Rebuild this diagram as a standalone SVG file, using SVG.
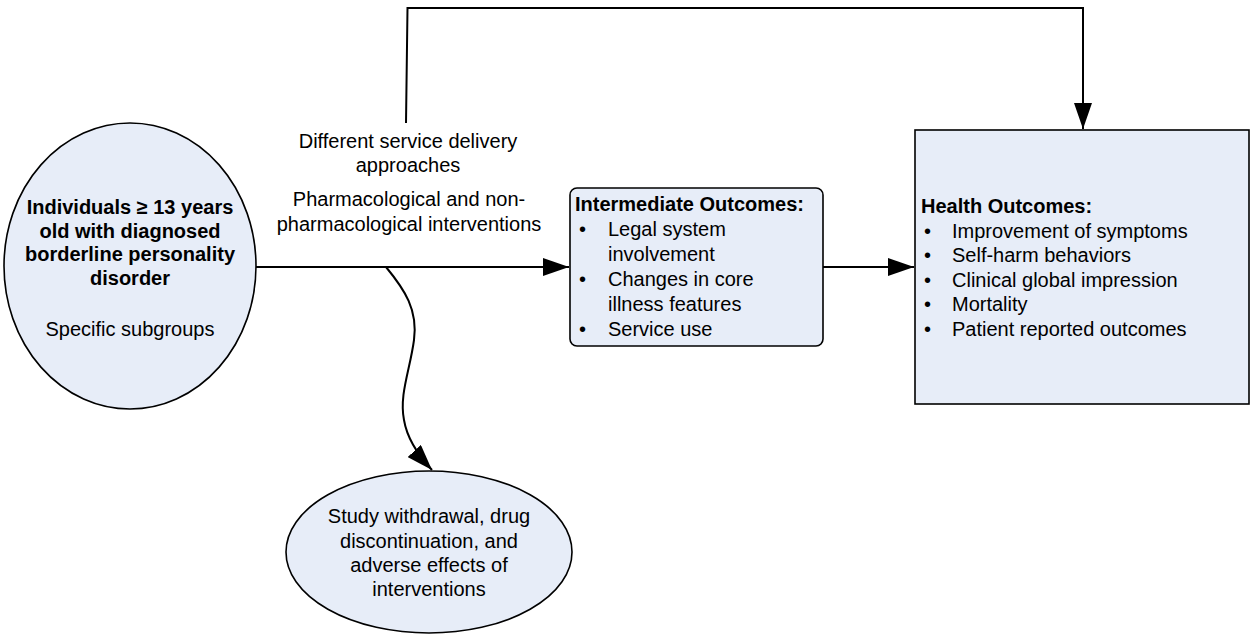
<svg xmlns="http://www.w3.org/2000/svg" width="1252" height="634" viewBox="0 0 1252 634">
<style>
.shape{fill:#E7EDF8;stroke:#000;stroke-width:1.6}
.t{font-family:"Liberation Sans",Arial,sans-serif;font-size:20px;fill:#000}
.b{font-weight:bold}
.c{text-anchor:middle}
.conn{fill:none;stroke:#000;stroke-width:2}
</style>
<defs>
<marker id="ah" markerWidth="26" markerHeight="18" refX="26" refY="9" orient="auto" markerUnits="userSpaceOnUse">
<path d="M0,0 L26,9 L0,18 Z" fill="#000"/>
</marker>
</defs>
<rect width="1252" height="634" fill="#fff"/>
<g id="connectors">
<path class="conn" d="M406,123 L407.5,8 L1083,8 L1083,129" marker-end="url(#ah)"/>
<path class="conn" d="M256,267 L569,267" marker-end="url(#ah)"/>
<path class="conn" d="M823,267 L914,267" marker-end="url(#ah)"/>
<path class="conn" d="M386,267 C405,290 418,310 414,340 C410,370 399,395 404,420 C407,438 418,455 432,470" marker-end="url(#ah)"/>
</g>
<g id="population">
<ellipse class="shape" cx="130" cy="266" rx="126" ry="143"/>
<text class="t b c" x="130" y="214">Individuals ≥ 13 years</text>
<text class="t b c" x="130" y="237.5">old with diagnosed</text>
<text class="t b c" x="130" y="261">borderline personality</text>
<text class="t b c" x="130" y="284.5">disorder</text>
<text class="t c" x="130" y="336">Specific subgroups</text>
</g>
<g id="interventions">
<text class="t c" x="408" y="148">Different service delivery</text>
<text class="t c" x="408" y="172">approaches</text>
<text class="t c" x="409" y="206">Pharmacological and non-</text>
<text class="t c" x="409" y="231">pharmacological interventions</text>
</g>
<g id="intermediate">
<rect class="shape" x="570" y="188" width="253" height="158" rx="7" ry="7"/>
<text class="t b" x="575" y="211">Intermediate Outcomes:</text>
<text class="t" x="579" y="236">•</text><text class="t" x="608" y="236">Legal system</text>
<text class="t" x="608" y="261">involvement</text>
<text class="t" x="579" y="286">•</text><text class="t" x="608" y="286">Changes in core</text>
<text class="t" x="608" y="311">illness features</text>
<text class="t" x="579" y="336">•</text><text class="t" x="608" y="336">Service use</text>
</g>
<g id="health">
<rect class="shape" x="915" y="130" width="334" height="274"/>
<text class="t b" x="921" y="213">Health Outcomes:</text>
<text class="t" x="924" y="238">•</text><text class="t" x="952" y="238">Improvement of symptoms</text>
<text class="t" x="924" y="262">•</text><text class="t" x="952" y="262">Self-harm behaviors</text>
<text class="t" x="924" y="287">•</text><text class="t" x="952" y="287">Clinical global impression</text>
<text class="t" x="924" y="311">•</text><text class="t" x="952" y="311">Mortality</text>
<text class="t" x="924" y="336">•</text><text class="t" x="952" y="336">Patient reported outcomes</text>
</g>
<g id="adverse">
<ellipse class="shape" cx="429" cy="552" rx="143" ry="81"/>
<text class="t c" x="429" y="523">Study withdrawal, drug</text>
<text class="t c" x="429" y="548">discontinuation, and</text>
<text class="t c" x="429" y="572">adverse effects of</text>
<text class="t c" x="429" y="596">interventions</text>
</g>
</svg>
